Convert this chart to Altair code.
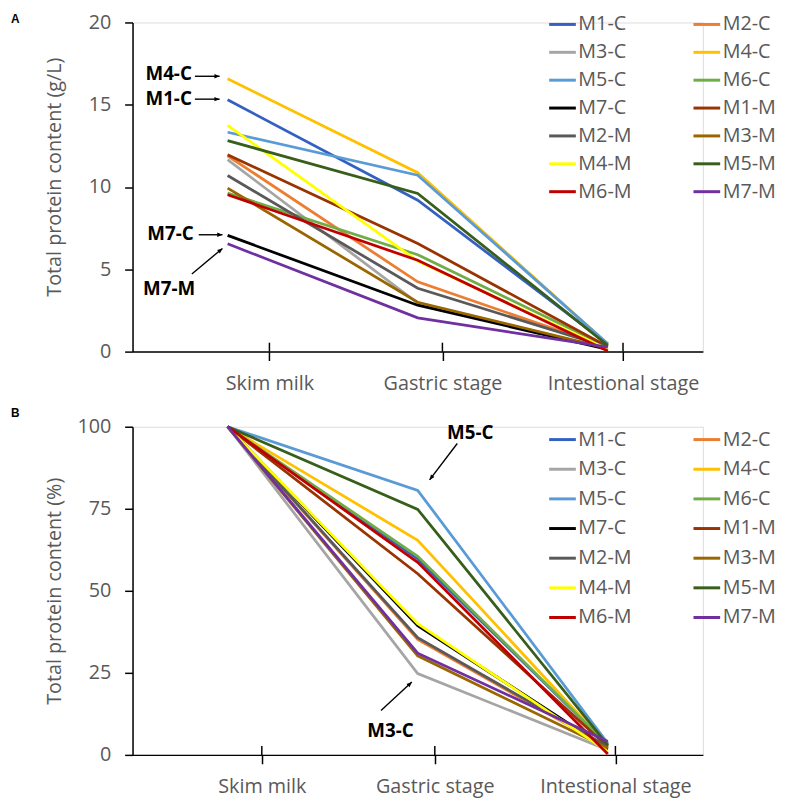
import altair as alt
import pandas as pd

series = ["M1-C", "M2-C", "M3-C", "M4-C", "M5-C", "M6-C", "M7-C",
          "M1-M", "M2-M", "M3-M", "M4-M", "M5-M", "M6-M", "M7-M"]
colors = ["#3461C1", "#ED7D31", "#A5A5A5", "#FFC000", "#5B9BD5", "#70AD47", "#000000",
          "#993300", "#595959", "#996600", "#FFFF00", "#375F1B", "#C00000", "#7030A0"]
stages = ["Skim milk", "Gastric stage", "Intestional stage"]
stage_pos = [1, 2, 3]

# Panel A: total protein content (g/L)
skimA = [15.3, 11.9, 11.66, 16.58, 13.33, 9.63, 7.06, 11.96, 10.7, 9.93, 13.75, 12.82, 9.53, 6.55]
gastA = [9.2, 4.24, 2.95, 10.87, 10.72, 5.89, 2.82, 6.57, 3.85, 3.0, 5.5, 9.61, 5.55, 2.05]
intA = [0.46, 0.26, 0.17, 0.46, 0.47, 0.29, 0.13, 0.30, 0.27, 0.20, 0.14, 0.38, 0.03, 0.27]

# Panel B: total protein content (%)
skimB = [100] * 14
gastB = [59.7, 35.2, 24.8, 65.4, 80.6, 60.5, 39.4, 55.2, 35.7, 30.2, 40.0, 74.8, 58.7, 31.0]
intB = [3.0, 2.2, 1.5, 2.8, 3.5, 3.0, 1.8, 2.5, 2.5, 2.0, 1.0, 3.0, 0.3, 4.1]

# axis tick positions (as drawn in the original figure)
tickA = [1.22, 2.13, 3.08]
tickB = [1.18, 2.09, 3.04]

# annotations (data coordinates)
annA_text = ["M4-C", "M1-C", "M7-C", "M7-M"]
annA_tx = [0.812, 0.812, 0.822, 0.692]
annA_ty = [16.88, 15.34, 7.16, 3.82]
annA_align = ["right", "right", "right", "center"]
annA_x1 = [0.828, 0.828, 0.848, 0.812]
annA_y1 = [16.73, 15.34, 7.10, 4.72]
annA_x2 = [0.958, 0.958, 0.973, 0.973]
annA_y2 = [16.73, 15.34, 7.10, 6.27]
annA_ang = [90, 90, 90, 50]

annB_text = ["M5-C", "M3-C"]
annB_tx = [2.276, 1.857]
annB_ty = [98.2, 7.2]
annB_align = ["center", "center"]
annB_x1 = [2.208, 1.807]
annB_y1 = [94.9, 13.5]
annB_x2 = [2.0625, 1.969]
annB_y2 = [83.8, 22.2]
annB_ang = [217, 47]

FONT = "Open Sans"
GREY = "#595959"
W = 577
ARROW = "M0,0L-0.42,1L0.42,1Z"

# legend order: the legend fills columns, so interleave to read row-wise like the original
legend_order = series[0::2] + series[1::2]


def long_df(skim, gast, inte):
    rows = []
    for i, s in enumerate(series):
        for pos, v in zip(stage_pos, [skim[i], gast[i], inte[i]]):
            rows.append({"series": s, "idx": i, "x": pos, "y": v})
    return pd.DataFrame(rows)


def panel(df, ticks, ymax, ystep, ytitle, H, letter, letter_y, ann, legend_y, row_pad, title_y):
    xscale = alt.Scale(domain=[0.5, 3.5], nice=False, zero=False)
    yscale = alt.Scale(domain=[0, ymax], nice=False)
    label_expr = ("datum.value < 1.5 ? 'Skim milk' : datum.value < 2.5 ? "
                  "'Gastric stage' : 'Intestional stage'")
    col_range = [colors[series.index(s)] for s in legend_order]
    lines = alt.Chart(df).mark_line(strokeWidth=2.8).encode(
        x=alt.X("x:Q", scale=xscale,
                axis=alt.Axis(values=ticks, labelExpr=label_expr, title=None, grid=False,
                              tickSize=9, tickWidth=1.5, tickColor="#000",
                              domainColor="#000", domainWidth=1.5,
                              labelFontSize=20, labelColor=GREY, labelFont=FONT,
                              labelPadding=13, labelFlush=False)),
        y=alt.Y("y:Q", scale=yscale,
                axis=alt.Axis(values=list(range(0, ymax + 1, ystep)), title=ytitle, grid=False,
                              tickSize=8, tickWidth=1.5, tickColor="#000",
                              domainColor="#000", domainWidth=1.5,
                              labelFontSize=20, labelColor=GREY, labelFont=FONT,
                              labelPadding=14,
                              titleFontSize=20, titleFontWeight="normal", titleColor=GREY,
                              titleFont=FONT, titleX=-69, titleY=title_y)),
        color=alt.Color("series:N", scale=alt.Scale(domain=legend_order, range=col_range),
                        legend=alt.Legend(orient="none", legendX=420, legendY=legend_y,
                                          columns=2, title=None, symbolType="stroke",
                                          symbolSize=729, symbolStrokeWidth=3,
                                          labelFontSize=20, labelFont=FONT, labelColor=GREY,
                                          labelOffset=1, columnPadding=56, rowPadding=row_pad)),
        detail="idx:O",
        order=alt.Order("x:Q"),
    )
    tdf = pd.DataFrame({"t": ticks})
    inner_ticks = alt.Chart(tdf).mark_rule(color="#000", strokeWidth=1.5).encode(
        x=alt.X("t:Q", scale=xscale), y=alt.value(H), y2=alt.value(H - 9))

    text, tx, ty, align, x1, y1, x2, y2, ang = ann
    adf = pd.DataFrame({"text": text, "tx": tx, "ty": ty, "align": align,
                        "x1": x1, "y1": y1, "x2": x2, "y2": y2, "ang": ang})
    layers = [lines, inner_ticks]
    for al in sorted(set(align)):
        layers.append(alt.Chart(adf[adf["align"] == al]).mark_text(
            fontSize=19, fontWeight="bold", font=FONT, color="#000", align=al,
            baseline="middle").encode(
            x=alt.X("tx:Q", scale=xscale), y=alt.Y("ty:Q", scale=yscale), text="text:N"))
    layers.append(alt.Chart(adf).mark_rule(color="#000", strokeWidth=1.4).encode(
        x=alt.X("x1:Q", scale=xscale), y=alt.Y("y1:Q", scale=yscale),
        x2="x2:Q", y2="y2:Q"))
    layers.append(alt.Chart(adf).mark_point(shape=ARROW, size=110, filled=True,
                                             color="#000", opacity=1).encode(
        x=alt.X("x2:Q", scale=xscale), y=alt.Y("y2:Q", scale=yscale),
        angle=alt.Angle("ang:Q", scale=None)))
    ldf = pd.DataFrame({"t": [letter]})
    layers.append(alt.Chart(ldf).mark_text(fontSize=12, fontWeight="bold", font="Liberation Sans",
                                           color="#000", align="left", baseline="top").encode(
        x=alt.value(-123), y=alt.value(letter_y), text="t:N"))
    return alt.layer(*layers).properties(width=W, height=H)


dfA = long_df(skimA, gastA, intA)
dfB = long_df(skimB, gastB, intB)

chartA = panel(dfA, tickA, 20, 5, "Total protein content (g/L)", 333, "A", -8,
               (annA_text, annA_tx, annA_ty, annA_align, annA_x1, annA_y1, annA_x2, annA_y2, annA_ang),
               -13, 3.2, 156)
chartB = panel(dfB, tickB, 100, 25, "Total protein content (%)", 332, "B", -19,
               (annB_text, annB_tx, annB_ty, annB_align, annB_x1, annB_y1, annB_x2, annB_y2, annB_ang),
               -2, 5.0, 166)

chart = alt.vconcat(chartA, chartB, spacing=12).resolve_scale(
    color="independent", x="independent", y="independent"
).properties(padding={"left": 2, "top": -4, "right": 0, "bottom": -3}).configure_view(
    stroke=None).configure(font=FONT)

chart.save("out.html", embed_options={"renderer": "svg", "actions": False})
